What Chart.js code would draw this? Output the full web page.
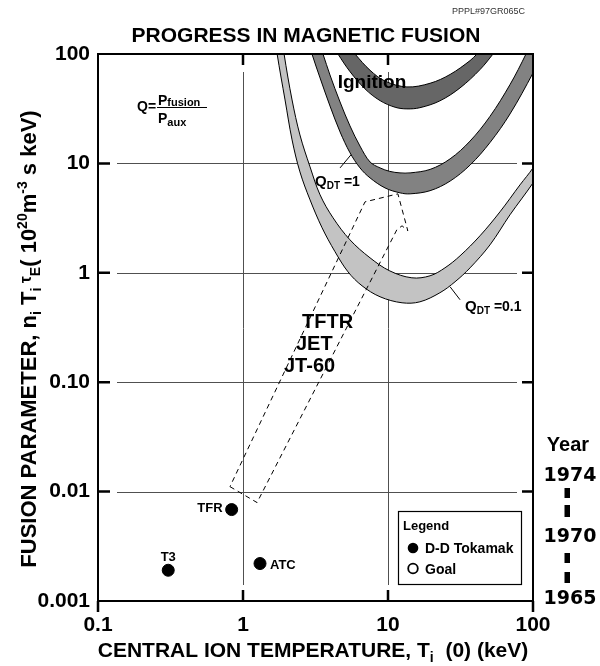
<!DOCTYPE html>
<html>
<head>
<meta charset="utf-8">
<title>Progress in magnetic fusion</title>
<script src="https://cdn.jsdelivr.net/npm/chart.js@4.4.1/dist/chart.umd.min.js"></script>
<style>
  body { margin: 0; background: #fff; }
</style>
</head>
<body>
<canvas id="fusion" width="600" height="666"></canvas>
<script>
const FONT = '"Liberation Sans", Arial, Helvetica, sans-serif';
const WIDE = '"DejaVu Sans", Verdana, sans-serif';

// axis ticks
const xTicks = [0.1, 1, 10, 100];
const xTickLabels = ['0.1', '1', '10', '100'];
const yTicks = [0.001, 0.01, 0.1, 1, 10, 100];
const yTickLabels = ['0.001', '0.01', '0.10', '1', '10', '100'];

// D-D tokamak results (keV, 10^20 m^-3 s keV)
const machineNames = ['T3', 'TFR', 'ATC'];
const machineT = [0.305, 0.835, 1.31];
const machineNT = [0.00191, 0.00685, 0.0022];

// dashed region reached by TFTR / JET / JT-60
const regionT = [0.813, 1.25, 11.5, 12.5, 13.7, 11.7, 6.94, 0.813];
const regionNT = [0.0111, 0.00794, 2.47, 2.69, 2.42, 5.27, 4.45, 0.0111];

// bands: outer edge left -> right, then inner edge back right -> left
const ignitionT = [3.98, 4.52, 5.47, 6.94, 8.81, 11.2, 13.5, 16.6, 22.8, 31.4, 43.1, 53.0, 59.2,
                   46.7, 41.1, 36.8, 26.8, 19.5, 13.5, 9.53, 7.52, 5.92, 5.47];
const ignitionNT = [133, 100, 69, 48, 37.5, 32.6, 31.5, 32.3, 37.3, 49, 72, 100, 122,
                    118, 100, 87, 65, 54, 50, 56.6, 71, 100, 115];

const q1T = [2.81, 2.99, 3.40, 3.98, 4.67, 5.47, 6.41, 7.52, 9.54, 12.1, 14.2, 19.5, 26.8, 36.8, 50.5, 69.4, 100, 121,
             112, 89.5, 69.4, 50.5, 36.8, 26.8, 19.5, 14.2, 12.1, 10.3, 8.81, 7.52, 6.41, 5.47, 4.67, 3.98, 3.56, 3.29];
const q1NT = [134, 100, 60.4, 33.5, 19.4, 12.5, 9.1, 7.37, 5.97, 5.38, 5.27, 5.63, 6.89, 9.65, 15.5, 28.3, 67.1, 113,
              190, 100, 52.5, 26.9, 16.0, 11.0, 8.81, 8.19, 8.19, 8.45, 9.10, 10.3, 14.4, 22.0, 36.4, 64.3, 100, 134];

const q01T = [1.64, 1.72, 1.95, 2.18, 2.47, 2.90, 3.51, 4.31, 5.30, 6.62, 8.81, 12.5, 16.6, 22.8, 29.0, 36.8, 50.5, 69.4, 100, 121,
              121, 100, 81.3, 59.2, 43.1, 31.4, 24.7, 19.5, 14.6, 10.3, 7.52, 5.47, 4.18, 3.40, 2.90, 2.47, 2.18, 1.92, 1.83];
const q01NT = [166, 100, 38, 16.4, 8.36, 4.64, 2.58, 1.56, 1.02, 0.761, 0.604, 0.532, 0.543, 0.657, 0.828, 1.11, 1.80, 3.39, 6.63, 10.1,
               13.9, 9.10, 6.36, 3.61, 2.18, 1.43, 1.11, 0.939, 0.900, 1.04, 1.37, 2.00, 3.18, 5.16, 9.29, 18.2, 38.0, 100, 166];

// pointers from the Q labels to their bands
const q1PointerT = [4.67, 5.56];
const q1PointerNT = [9.1, 12.0];
const q01PointerT = [26.8, 31.4];
const q01PointerNT = [0.745, 0.567];

const pts = (ts, vs) => ts.map((t, i) => ({x: t, y: vs[i]}));

function drawRich(ctx, parts, x, y, align, family) {
  // parts: [text, size, shift]
  const fam = family || FONT;
  let w = 0;
  parts.forEach(p => {
    ctx.font = 'bold ' + p[1] + 'px ' + fam;
    w += ctx.measureText(p[0]).width;
  });
  let cx = align === 'center' ? x - w / 2 : (align === 'right' ? x - w : x);
  ctx.textAlign = 'left';
  ctx.textBaseline = 'alphabetic';
  parts.forEach(p => {
    ctx.font = 'bold ' + p[1] + 'px ' + fam;
    ctx.fillText(p[0], cx, y + p[2]);
    cx += ctx.measureText(p[0]).width;
  });
}

const gridFrame = {
  id: 'gridFrame',
  beforeDatasetsDraw(chart) {
    const {ctx, chartArea: a, scales: {x, y}} = chart;
    ctx.save();
    ctx.strokeStyle = '#505050';
    ctx.lineWidth = 1;
    ctx.beginPath();
    xTicks.slice(1, -1).forEach(v => {
      const px = Math.round(x.getPixelForValue(v)) + 0.5;
      ctx.moveTo(px, a.top + 18);
      ctx.lineTo(px, a.bottom - 16);
    });
    yTicks.slice(1, -1).forEach(v => {
      const py = Math.round(y.getPixelForValue(v)) + 0.5;
      ctx.moveTo(a.left + 19, py);
      ctx.lineTo(a.right - 16, py);
    });
    ctx.stroke();
    ctx.restore();
  },
  afterDatasetsDraw(chart) {
    const {ctx, chartArea: a, scales: {x, y}} = chart;
    ctx.save();
    ctx.strokeStyle = '#000';
    ctx.lineWidth = 2.5;
    ctx.beginPath();
    xTicks.slice(1, -1).forEach(v => {
      const px = x.getPixelForValue(v);
      ctx.moveTo(px, a.top); ctx.lineTo(px, a.top + 11);
      ctx.moveTo(px, a.bottom); ctx.lineTo(px, a.bottom - 11);
    });
    yTicks.slice(1, -1).forEach(v => {
      const py = y.getPixelForValue(v);
      ctx.moveTo(a.left, py); ctx.lineTo(a.left + 12, py);
      ctx.moveTo(a.right, py); ctx.lineTo(a.right - 11, py);
    });
    [xTicks[0], xTicks[xTicks.length - 1]].forEach(v => {
      const px = x.getPixelForValue(v);
      ctx.moveTo(px, a.bottom); ctx.lineTo(px, a.bottom + 11);
    });
    ctx.stroke();
    ctx.lineWidth = 2;
    ctx.strokeRect(a.left, a.top, a.right - a.left, a.bottom - a.top);

    // pointer lines
    ctx.lineWidth = 1;
    ctx.beginPath();
    [[q1PointerT, q1PointerNT], [q01PointerT, q01PointerNT]].forEach(([ts, vs]) => {
      ctx.moveTo(x.getPixelForValue(ts[0]), y.getPixelForValue(vs[0]));
      ctx.lineTo(x.getPixelForValue(ts[1]), y.getPixelForValue(vs[1]));
    });
    ctx.stroke();
    ctx.restore();
  }
};

const labels = {
  id: 'labels',
  afterDraw(chart) {
    const {ctx, scales: {x, y}} = chart;
    ctx.save();

    // header
    ctx.font = '9px ' + FONT;
    ctx.fillStyle = '#333';
    ctx.textAlign = 'right';
    ctx.textBaseline = 'alphabetic';
    ctx.fillText('PPPL#97GR065C', 525, 14);
    ctx.fillStyle = '#000';
    drawRich(ctx, [['PROGRESS IN MAGNETIC FUSION', 21, 0]], 306, 42, 'center');

    // Q definition
    drawRich(ctx, [['Q=', 14, 0]], 137, 111, 'left');
    drawRich(ctx, [['P', 14, 0], ['fusion', 11, 1]], 158, 105, 'left');
    drawRich(ctx, [['P', 14, 0], ['aux', 11, 3]], 158, 123, 'left');
    ctx.strokeStyle = '#000';
    ctx.lineWidth = 1;
    ctx.beginPath();
    ctx.moveTo(157, 107.5);
    ctx.lineTo(207, 107.5);
    ctx.stroke();

    // band labels
    drawRich(ctx, [['Ignition', 19, 0]], 372, 88, 'center');
    drawRich(ctx, [['Q', 15, 0], ['DT', 10, 3], [' =1', 14, 0]], 315, 186, 'left');
    drawRich(ctx, [['Q', 15, 0], ['DT', 10, 3], [' =0.1', 14, 0]], 465, 311, 'left');

    // device group
    drawRich(ctx, [['TFTR', 20, 0]], 302, 328, 'left');
    drawRich(ctx, [['JET', 20, 0]], 296, 350, 'left');
    drawRich(ctx, [['JT-60', 20, 0]], 284, 372, 'left');

    // machine labels
    machineNames.forEach((name, i) => {
      const px = x.getPixelForValue(machineT[i]);
      const py = y.getPixelForValue(machineNT[i]);
      if (name === 'T3') drawRich(ctx, [[name, 13, 0]], px, py - 9, 'center');
      else if (name === 'TFR') drawRich(ctx, [[name, 13, 0]], px - 9, py + 2, 'right');
      else drawRich(ctx, [[name, 13, 0]], px + 10, py + 5, 'left');
    });

    // legend box
    ctx.fillStyle = '#fff';
    ctx.fillRect(398.5, 511.5, 123, 73);
    ctx.strokeStyle = '#000';
    ctx.lineWidth = 1.2;
    ctx.strokeRect(398.5, 511.5, 123, 73);
    ctx.fillStyle = '#000';
    drawRich(ctx, [['Legend', 13, 0]], 403, 530, 'left');
    ctx.beginPath();
    ctx.arc(413, 548, 5.3, 0, Math.PI * 2);
    ctx.fill();
    drawRich(ctx, [['D-D Tokamak', 14, 0]], 425, 553, 'left');
    ctx.beginPath();
    ctx.arc(413, 568.5, 4.8, 0, Math.PI * 2);
    ctx.lineWidth = 1.8;
    ctx.stroke();
    drawRich(ctx, [['Goal', 14, 0]], 425, 573.5, 'left');

    // year column
    drawRich(ctx, [['Year', 20, 0]], 568, 451, 'center');
    drawRich(ctx, [['1974', 19, 0]], 570, 481, 'center', WIDE);
    drawRich(ctx, [['1970', 19, 0]], 570, 542, 'center', WIDE);
    drawRich(ctx, [['1965', 19, 0]], 570, 604, 'center', WIDE);
    [[488, 498], [505, 517], [553, 563], [572, 583]].forEach(([a, b]) => {
      ctx.fillRect(564.5, a, 5.5, b - a);
    });

    // axis titles
    drawRich(ctx, [['CENTRAL ION TEMPERATURE, T', 21, 0], ['i', 14, 5], ['  (0) (keV)', 21, 0]], 313, 657, 'center');
    ctx.translate(36, 339);
    ctx.rotate(-Math.PI / 2);
    drawRich(ctx, [
      ['FUSION PARAMETER, n', 22, 0], ['i', 14, 5], [' T', 22, 0], ['i', 14, 5],
      [' \u03c4', 16, -5], ['E', 14, 4], ['( 10', 22, 0], ['20', 14, -9], ['m', 22, 0],
      ['-3', 14, -9], [' s keV)', 22, 0]
    ], 0, 0, 'center');
    ctx.restore();
  }
};

const bandStyle = {showLine: true, fill: 'shape', borderColor: '#000', borderWidth: 1, pointRadius: 0, tension: 0.35};

new Chart(document.getElementById('fusion'), {
  type: 'scatter',
  data: {
    datasets: [
      {
        label: 'D-D Tokamak',
        data: pts(machineT, machineNT),
        pointRadius: 6,
        pointBackgroundColor: '#000',
        pointBorderColor: '#000',
        showLine: false
      },
      {
        label: 'TFTR / JET / JT-60',
        data: pts(regionT, regionNT),
        showLine: true,
        fill: false,
        borderColor: '#000',
        borderWidth: 1,
        borderDash: [5, 4],
        pointRadius: 0,
        tension: 0
      },
      Object.assign({label: 'Ignition', data: pts(ignitionT, ignitionNT), backgroundColor: '#666666'}, bandStyle),
      Object.assign({label: 'Q=1', data: pts(q1T, q1NT), backgroundColor: '#828282'}, bandStyle),
      Object.assign({label: 'Q=0.1', data: pts(q01T, q01NT), backgroundColor: '#c3c3c3'}, bandStyle)
    ]
  },
  options: {
    responsive: false,
    animation: false,
    layout: {padding: {left: 0, top: 54, right: 67, bottom: 0}},
    plugins: {legend: {display: false}, tooltip: {enabled: false}},
    scales: {
      x: {
        type: 'logarithmic',
        min: 0.1,
        max: 100,
        afterBuildTicks: s => { s.ticks = xTicks.map(v => ({value: v})); },
        afterFit: s => { s.height = 65; },
        grid: {display: false, drawTicks: false},
        border: {display: false},
        ticks: {
          callback: (v, i) => xTickLabels[i],
          autoSkip: false,
          maxRotation: 0,
          padding: 12,
          color: '#000',
          font: {family: FONT, size: 21, weight: 'bold'}
        }
      },
      y: {
        type: 'logarithmic',
        min: 0.001,
        max: 100,
        afterBuildTicks: s => { s.ticks = yTicks.map(v => ({value: v})); },
        afterFit: s => { s.width = 98; },
        grid: {display: false, drawTicks: false},
        border: {display: false},
        ticks: {
          callback: (v, i) => yTickLabels[i],
          autoSkip: false,
          padding: 8,
          color: '#000',
          font: {family: FONT, size: 21, weight: 'bold'}
        }
      }
    }
  },
  plugins: [gridFrame, labels]
});
</script>
</body>
</html>
